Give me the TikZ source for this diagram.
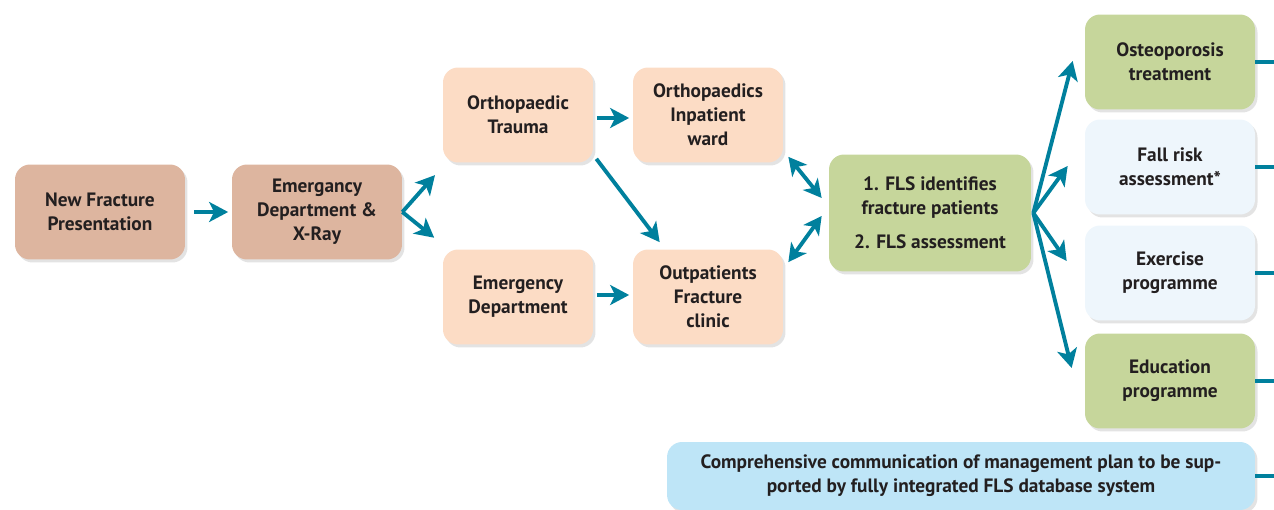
\documentclass[tikz,border=0pt]{standalone}
\usepackage{xcolor}
\usepackage{fontspec}
\setmainfont{PT Sans}
\usepackage{tikz}
\usetikzlibrary{arrows.meta,calc,shadows}

\definecolor{teal}{HTML}{00809D}
\definecolor{brownbox}{HTML}{DDB59F}
\definecolor{peachbox}{HTML}{FCDCC5}
\definecolor{greenbox}{HTML}{C6D69B}
\definecolor{palebox}{HTML}{EEF6FC}
\definecolor{bluebox}{HTML}{BEE5F7}
\definecolor{ink}{HTML}{231F20}

\begin{document}
\begin{tikzpicture}[x=0.02cm,y=-0.02cm,
		arrow/.style = {line width=2.2pt,teal,-{Stealth[length=0.38cm,width=0.4cm,inset=0.1cm]}},
		twoway/.style = {line width=2.2pt,teal,{Stealth[length=0.36cm,width=0.38cm,inset=0.1cm]}-{Stealth[length=0.36cm,width=0.38cm,inset=0.1cm]}},
		stub/.style = {line width=2.2pt,teal}]
					\tikzset{box/.style={rectangle,rounded corners=0.3cm,align=center,text=ink,inner sep=2pt,
							font=\fontsize{11}{13.6}\selectfont\bfseries,minimum width=3.4cm,minimum height=1.9cm,
							drop shadow={shadow xshift=0.05cm,shadow yshift=-0.06cm,opacity=0.22}}}

					\useasboundingbox (0,0) rectangle (1274,510);

					% Entrada

					\node[box, fill=brownbox] (newfrac) at (100,212) {New Fracture\\Presentation};
					\node[box, fill=brownbox] (emxray) at (317,212) {Emergancy\\Department \&\\X-Ray};

					% Servicios
					\node[box, fill=peachbox, minimum width=3cm] (ortrauma) at (518,115) {Orthopaedic\\Trauma};
					\node[box, fill=peachbox, minimum width=3cm] (emdep) at (518,297) {Emergency\\Department};
					\node[box, fill=peachbox, minimum width=3cm] (inpat) at (708,115) {Orthopaedics\\Inpatient\\ward};
					\node[box, fill=peachbox, minimum width=3cm] (outpat) at (708,297) {Outpatients\\Fracture\\clinic};

					\node[box, fill=greenbox, minimum width=4.04cm, minimum height=2.34cm] (fls) at (930,213) {1. FLS identifies\\fracture patients\\[5.7pt]2. FLS assessment};

					% Resultados
					\node[box, fill=greenbox] (osteo) at (1170,62) {Osteoporosis\\treatment};
					\node[box, fill=palebox] (fallrisk) at (1170,167) {Fall risk\\assessment*};
					\node[box, fill=palebox] (exer) at (1170,273) {Exercise\\programme};
					\node[box, fill=greenbox] (educ) at (1170,381) {Education\\programme};

					\node[box, fill=bluebox, minimum width=11.76cm, minimum height=1.36cm] (comm) at (961,476) {Comprehensive communication of management plan to be sup-\\ported by fully integrated FLS database system};

					\draw [arrow, shorten <=5pt, shorten >=2pt] (newfrac) -- (emxray);
					\draw [arrow, shorten >=4pt] (emxray.east) -- ($(ortrauma.south west)+(-3,7)$);
					\draw [arrow, shorten >=4pt] (emxray.east) -- ($(emdep.north west)+(-3,-7)$);

					\draw [arrow, shorten <=2pt, shorten >=2pt] ($(ortrauma.east)+(0,3)$) -- ($(inpat.west)+(0,3)$);
					\draw [arrow, shorten <=2pt, shorten >=2pt] ($(emdep.east)+(0,-2)$) -- ($(outpat.west)+(0,-2)$);
					\draw [arrow] ($(ortrauma.south east)+(3,-4)$) -- ($(outpat.north west)+(27,-7)$);

					\draw [twoway] ($(inpat.south east)+(5,-6)$) -- ($(fls.west)+(-7,-15)$);
					\draw [twoway] ($(outpat.north east)+(5,13)$) -- ($(fls.west)+(-7,3)$);

					\draw [arrow] ($(fls.east)+(2,0)$) -- ($(osteo.west)+(-12,-1)$);
					\draw [arrow] ($(fls.east)+(2,0)$) -- ($(fallrisk.west)+(-17,-1)$);
					\draw [arrow] ($(fls.east)+(2,0)$) -- ($(exer.west)+(-18,-12)$);
					\draw [arrow] ($(fls.east)+(2,0)$) -- ($(educ.west)+(-13,-13)$);

					\foreach \b in {osteo,fallrisk,exer,educ,comm}
					\draw [stub] (\b.east) -- ++(25,0);

				\end{tikzpicture}
\end{document}
